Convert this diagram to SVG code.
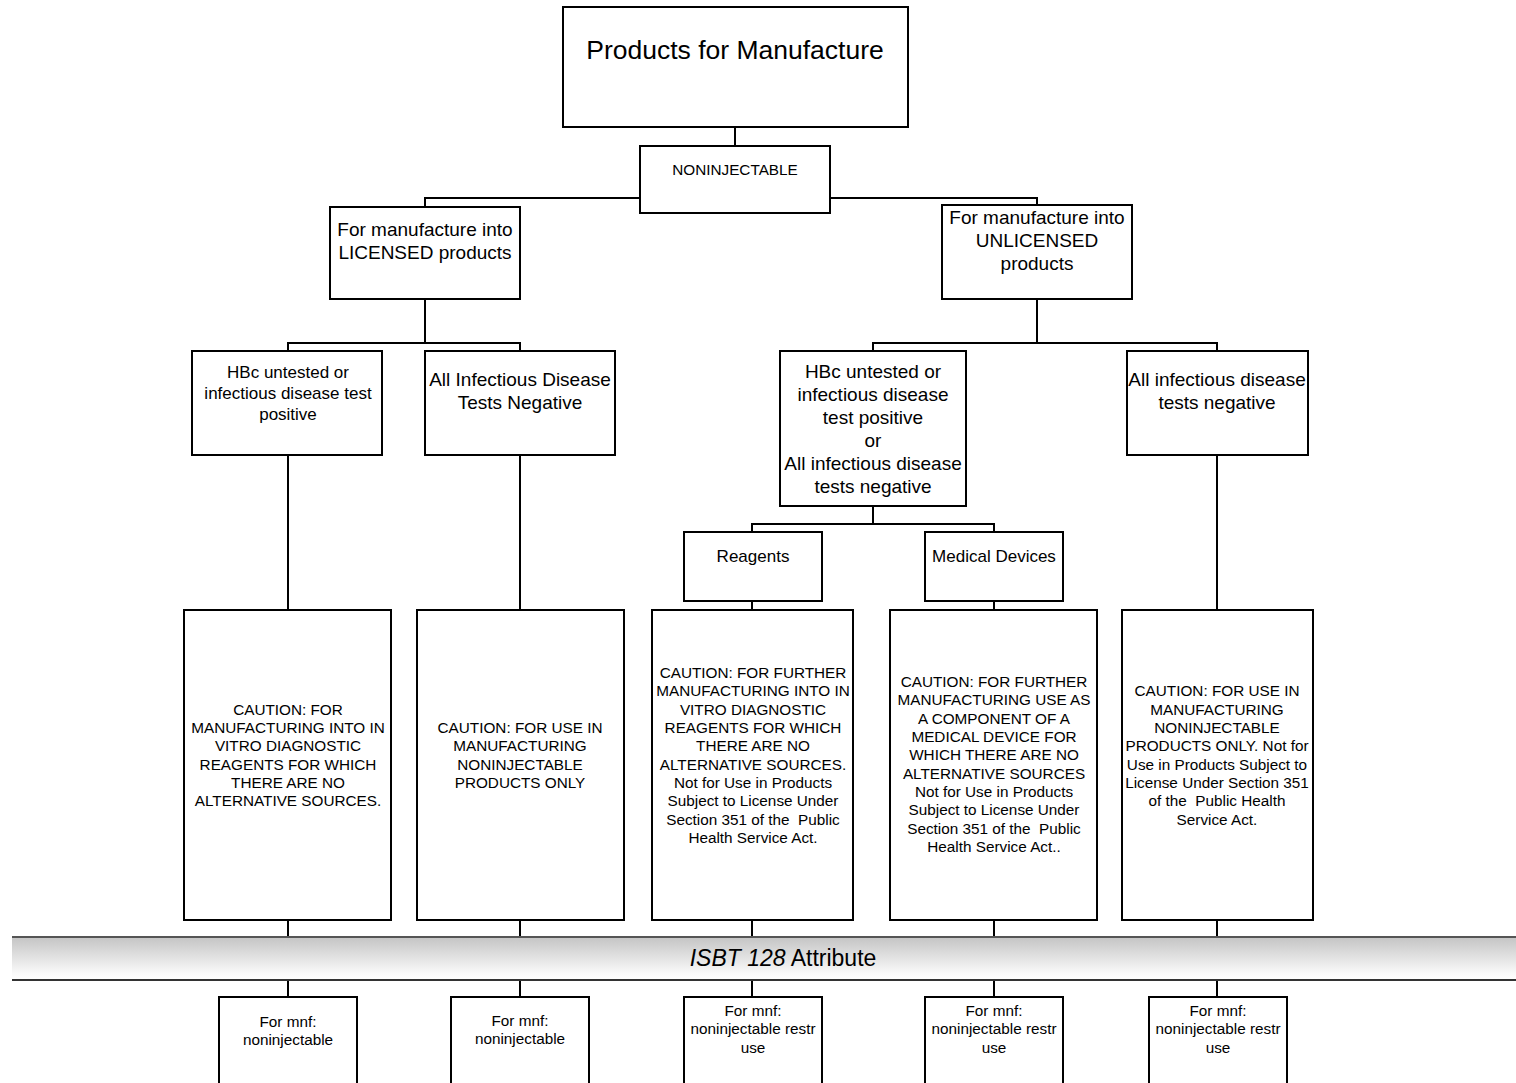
<svg xmlns="http://www.w3.org/2000/svg" width="1516" height="1083" viewBox="0 0 1516 1083">
<style>
.box{fill:#fff;stroke:#000;stroke-width:2}
.conn line,.conn polyline{stroke:#000;stroke-width:2;fill:none}
text{font-family:"Liberation Sans",Arial,sans-serif;fill:#000;text-anchor:middle}
.t24{font-size:26.5px}
.t18{font-size:19px}
.t16{font-size:17px}
.t14{font-size:15.3px}
.t13{font-size:15.3px}
</style>
<defs>
<linearGradient id="band" x1="0" y1="0" x2="0" y2="1">
<stop offset="0" stop-color="#c4c4c4"/>
<stop offset="0.85" stop-color="#fafafa"/>
<stop offset="1" stop-color="#ffffff"/>
</linearGradient>
</defs>
<rect width="1516" height="1083" fill="#fff"/>
<g class="conn">
<line x1="735" y1="127" x2="735" y2="146"/>
<polyline points="640,198 425,198 425,207"/>
<polyline points="830,198 1037,198 1037,205"/>
<line x1="425" y1="299" x2="425" y2="343"/>
<polyline points="288,351 288,343 520,343 520,351"/>
<line x1="1037" y1="299" x2="1037" y2="343"/>
<polyline points="873,351 873,343 1217,343 1217,351"/>
<line x1="288" y1="455" x2="288" y2="610"/>
<line x1="520" y1="455" x2="520" y2="610"/>
<line x1="1217" y1="455" x2="1217" y2="610"/>
<line x1="873" y1="506" x2="873" y2="524"/>
<polyline points="752,532 752,524 994,524 994,532"/>
<line x1="752" y1="601" x2="752" y2="610"/>
<line x1="994" y1="601" x2="994" y2="610"/>
<line x1="288" y1="920" x2="288" y2="937"/>
<line x1="520" y1="920" x2="520" y2="937"/>
<line x1="752" y1="920" x2="752" y2="937"/>
<line x1="994" y1="920" x2="994" y2="937"/>
<line x1="1217" y1="920" x2="1217" y2="937"/>
<line x1="288" y1="980" x2="288" y2="997"/>
<line x1="520" y1="980" x2="520" y2="997"/>
<line x1="752" y1="980" x2="752" y2="997"/>
<line x1="994" y1="980" x2="994" y2="997"/>
<line x1="1217" y1="980" x2="1217" y2="997"/>
</g>
<g id="n-top">
<rect class="box" x="563" y="7" width="345" height="120"/>
<text class="t24" x="735" y="59">Products for Manufacture</text>
</g>
<g id="n-noninj">
<rect class="box" x="640" y="146" width="190" height="67"/>
<text class="t13" x="735" y="175">NONINJECTABLE</text>
</g>
<g id="n-licensed">
<rect class="box" x="330" y="207" width="190" height="92"/>
<text class="t18" x="425" y="236">For manufacture into</text>
<text class="t18" x="425" y="259">LICENSED products</text>
</g>
<g id="n-unlicensed">
<rect class="box" x="942" y="205" width="190" height="94"/>
<text class="t18" x="1037" y="224">For manufacture into</text>
<text class="t18" x="1037" y="247">UNLICENSED</text>
<text class="t18" x="1037" y="270">products</text>
</g>
<g id="n-hbc-lic">
<rect class="box" x="192" y="351" width="190" height="104"/>
<text class="t16" x="288" y="378">HBc untested or</text>
<text class="t16" x="288" y="399">infectious disease test</text>
<text class="t16" x="288" y="420">positive</text>
</g>
<g id="n-neg-lic">
<rect class="box" x="425" y="351" width="190" height="104"/>
<text class="t18" x="520" y="386">All Infectious Disease</text>
<text class="t18" x="520" y="409">Tests Negative</text>
</g>
<g id="n-hbc-unlic">
<rect class="box" x="780" y="351" width="186" height="155"/>
<text class="t18" x="873" y="378">HBc untested or</text>
<text class="t18" x="873" y="401">infectious disease</text>
<text class="t18" x="873" y="424">test positive</text>
<text class="t18" x="873" y="447">or</text>
<text class="t18" x="873" y="470">All infectious disease</text>
<text class="t18" x="873" y="493">tests negative</text>
</g>
<g id="n-neg-unlic">
<rect class="box" x="1127" y="351" width="181" height="104"/>
<text class="t18" x="1217" y="386">All infectious disease</text>
<text class="t18" x="1217" y="409">tests negative</text>
</g>
<g id="n-reagents">
<rect class="box" x="684" y="532" width="138" height="69"/>
<text class="t16" x="753" y="562">Reagents</text>
</g>
<g id="n-meddev">
<rect class="box" x="925" y="532" width="138" height="69"/>
<text class="t16" x="994" y="562">Medical Devices</text>
</g>
<g id="n-caution1">
<rect class="box" x="184" y="610" width="207" height="310"/>
<text class="t14" x="288" y="715">CAUTION: FOR</text>
<text class="t14" x="288" y="733">MANUFACTURING INTO IN</text>
<text class="t14" x="288" y="751">VITRO DIAGNOSTIC</text>
<text class="t14" x="288" y="770">REAGENTS FOR WHICH</text>
<text class="t14" x="288" y="788">THERE ARE NO</text>
<text class="t14" x="288" y="806">ALTERNATIVE SOURCES.</text>
</g>
<g id="n-caution2">
<rect class="box" x="417" y="610" width="207" height="310"/>
<text class="t14" x="520" y="733">CAUTION: FOR USE IN</text>
<text class="t14" x="520" y="751">MANUFACTURING</text>
<text class="t14" x="520" y="770">NONINJECTABLE</text>
<text class="t14" x="520" y="788">PRODUCTS ONLY</text>
</g>
<g id="n-caution3">
<rect class="box" x="652" y="610" width="201" height="310"/>
<text class="t14" x="753" y="678">CAUTION: FOR FURTHER</text>
<text class="t14" x="753" y="696">MANUFACTURING INTO IN</text>
<text class="t14" x="753" y="715">VITRO DIAGNOSTIC</text>
<text class="t14" x="753" y="733">REAGENTS FOR WHICH</text>
<text class="t14" x="753" y="751">THERE ARE NO</text>
<text class="t14" x="753" y="770">ALTERNATIVE SOURCES.</text>
<text class="t14" x="753" y="788">Not for Use in Products</text>
<text class="t14" x="753" y="806">Subject to License Under</text>
<text class="t14" x="753" y="825" xml:space="preserve">Section 351 of the  Public</text>
<text class="t14" x="753" y="843">Health Service Act.</text>
</g>
<g id="n-caution4">
<rect class="box" x="890" y="610" width="207" height="310"/>
<text class="t14" x="994" y="687">CAUTION: FOR FURTHER</text>
<text class="t14" x="994" y="705">MANUFACTURING USE AS</text>
<text class="t14" x="994" y="724">A COMPONENT OF A</text>
<text class="t14" x="994" y="742">MEDICAL DEVICE FOR</text>
<text class="t14" x="994" y="760">WHICH THERE ARE NO</text>
<text class="t14" x="994" y="779">ALTERNATIVE SOURCES</text>
<text class="t14" x="994" y="797">Not for Use in Products</text>
<text class="t14" x="994" y="815">Subject to License Under</text>
<text class="t14" x="994" y="834" xml:space="preserve">Section 351 of the  Public</text>
<text class="t14" x="994" y="852">Health Service Act..</text>
</g>
<g id="n-caution5">
<rect class="box" x="1122" y="610" width="191" height="310"/>
<text class="t14" x="1217" y="696">CAUTION: FOR USE IN</text>
<text class="t14" x="1217" y="715">MANUFACTURING</text>
<text class="t14" x="1217" y="733">NONINJECTABLE</text>
<text class="t14" x="1217" y="751">PRODUCTS ONLY. Not for</text>
<text class="t14" x="1217" y="770">Use in Products Subject to</text>
<text class="t14" x="1217" y="788">License Under Section 351</text>
<text class="t14" x="1217" y="806" xml:space="preserve">of the  Public Health</text>
<text class="t14" x="1217" y="825">Service Act.</text>
</g>
<g id="n-band">
<rect x="12" y="937" width="1510" height="43" fill="url(#band)"/>
<line x1="12" y1="937" x2="1516" y2="937" stroke="#555" stroke-width="2"/>
<line x1="12" y1="980" x2="1516" y2="980" stroke="#333" stroke-width="2"/>
<text x="783" y="966" style="font-size:23px"><tspan font-style="italic">ISBT 128</tspan> Attribute</text>
</g>
<g id="n-attr1">
<rect class="box" x="219" y="997" width="138" height="95"/>
<text class="t13" x="288" y="1027">For mnf:</text>
<text class="t13" x="288" y="1045">noninjectable</text>
</g>
<g id="n-attr2">
<rect class="box" x="451" y="997" width="138" height="95"/>
<text class="t13" x="520" y="1026">For mnf:</text>
<text class="t13" x="520" y="1044">noninjectable</text>
</g>
<g id="n-attr3">
<rect class="box" x="684" y="997" width="138" height="95"/>
<text class="t13" x="753" y="1016">For mnf:</text>
<text class="t13" x="753" y="1034">noninjectable restr</text>
<text class="t13" x="753" y="1053">use</text>
</g>
<g id="n-attr4">
<rect class="box" x="925" y="997" width="138" height="95"/>
<text class="t13" x="994" y="1016">For mnf:</text>
<text class="t13" x="994" y="1034">noninjectable restr</text>
<text class="t13" x="994" y="1053">use</text>
</g>
<g id="n-attr5">
<rect class="box" x="1149" y="997" width="138" height="95"/>
<text class="t13" x="1218" y="1016">For mnf:</text>
<text class="t13" x="1218" y="1034">noninjectable restr</text>
<text class="t13" x="1218" y="1053">use</text>
</g>
</svg>
